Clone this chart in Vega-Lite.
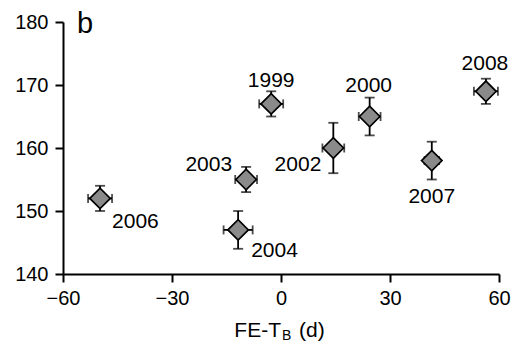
{
  "$schema": "https://vega.github.io/schema/vega-lite/v6.json",
  "width": 436,
  "height": 252,
  "autosize": {"type": "none"},
  "padding": {"left": 63, "top": 22, "right": 15, "bottom": 68},
  "background": "white",
  "config": {
    "view": {"stroke": null},
    "font": "Liberation Sans",
    "axis": {
      "grid": false,
      "labelFlush": false,
      "labelOverlap": false,
      "domainColor": "black",
      "domainWidth": 2,
      "tickColor": "black",
      "tickWidth": 2,
      "tickSize": 8,
      "labelFont": "Liberation Sans",
      "labelFontSize": 20,
      "labelColor": "black",
      "labelPadding": 6
    },
    "text": {"font": "Liberation Sans", "fontSize": 21, "color": "black", "fontWeight": "normal"}
  },
  "datasets": {
    "points": [
      {"year": "1999", "x": -2.7, "y": 167, "xlo": -6.0, "xhi": 0.6, "ylo": 165, "yhi": 169},
      {"year": "2000", "x": 24.4, "y": 165, "xlo": 21.4, "xhi": 27.4, "ylo": 162, "yhi": 168},
      {"year": "2002", "x": 14.4, "y": 160, "xlo": 11.4, "xhi": 17.4, "ylo": 156, "yhi": 164},
      {"year": "2003", "x": -9.6, "y": 155, "xlo": -12.6, "xhi": -6.6, "ylo": 153, "yhi": 157},
      {"year": "2004", "x": -11.8, "y": 147, "xlo": -15.8, "xhi": -7.8, "ylo": 144, "yhi": 150},
      {"year": "2006", "x": -49.8, "y": 152, "xlo": -53.1, "xhi": -46.5, "ylo": 150, "yhi": 154},
      {"year": "2007", "x": 41.5, "y": 158, "xlo": 39.5, "xhi": 43.5, "ylo": 155, "yhi": 161},
      {"year": "2008", "x": 56.4, "y": 169, "xlo": 53.1, "xhi": 59.7, "ylo": 167, "yhi": 171}
    ],
    "single": [{"note": "annotation"}]
  },
  "data": {"name": "points"},
  "layer": [
    {
      "mark": {"type": "rule", "color": "black", "strokeWidth": 1.8},
      "encoding": {
        "x": {"field": "xlo", "type": "quantitative",
              "scale": {"domain": [-60, 60], "nice": false, "zero": false, "padding": 0},
              "axis": {"title": null, "values": [-60, -30, 0, 30, 60]}},
        "x2": {"field": "xhi"},
        "y": {"field": "y", "type": "quantitative",
              "scale": {"domain": [140, 180], "nice": false, "zero": false, "padding": 0},
              "axis": {"title": null, "values": [140, 150, 160, 170, 180], "labelPadding": 7}}
      }
    },
    {
      "mark": {"type": "rule", "color": "black", "strokeWidth": 1.8},
      "encoding": {
        "x": {"field": "x", "type": "quantitative"},
        "y": {"field": "ylo", "type": "quantitative"},
        "y2": {"field": "yhi"}
      }
    },
    {
      "mark": {"type": "tick", "orient": "horizontal", "color": "black", "size": 10, "thickness": 1.8},
      "encoding": {
        "x": {"field": "x", "type": "quantitative"},
        "y": {"field": "ylo", "type": "quantitative"}
      }
    },
    {
      "mark": {"type": "tick", "orient": "horizontal", "color": "black", "size": 10, "thickness": 1.8},
      "encoding": {
        "x": {"field": "x", "type": "quantitative"},
        "y": {"field": "yhi", "type": "quantitative"}
      }
    },
    {
      "mark": {"type": "tick", "orient": "vertical", "color": "black", "size": 9, "thickness": 1.8},
      "encoding": {
        "x": {"field": "xlo", "type": "quantitative"},
        "y": {"field": "y", "type": "quantitative"}
      }
    },
    {
      "mark": {"type": "tick", "orient": "vertical", "color": "black", "size": 9, "thickness": 1.8},
      "encoding": {
        "x": {"field": "xhi", "type": "quantitative"},
        "y": {"field": "y", "type": "quantitative"}
      }
    },
    {
      "mark": {"type": "point", "shape": "diamond", "filled": true, "fill": "#8a8a8a", "stroke": "black", "strokeWidth": 1.7, "size": 420, "opacity": 1},
      "encoding": {
        "x": {"field": "x", "type": "quantitative"},
        "y": {"field": "y", "type": "quantitative"}
      }
    },
    {
      "transform": [{"filter": "datum.year == '1999'"}],
      "mark": {"type": "text", "align": "center", "baseline": "alphabetic", "dy": -17},
      "encoding": {"x": {"field": "x", "type": "quantitative"}, "y": {"field": "y", "type": "quantitative"}, "text": {"field": "year"}}
    },
    {
      "transform": [{"filter": "datum.year == '2000'"}],
      "mark": {"type": "text", "align": "center", "baseline": "alphabetic", "dx": -1, "dy": -25},
      "encoding": {"x": {"field": "x", "type": "quantitative"}, "y": {"field": "y", "type": "quantitative"}, "text": {"field": "year"}}
    },
    {
      "transform": [{"filter": "datum.year == '2008'"}],
      "mark": {"type": "text", "align": "center", "baseline": "alphabetic", "dx": -1, "dy": -21},
      "encoding": {"x": {"field": "x", "type": "quantitative"}, "y": {"field": "y", "type": "quantitative"}, "text": {"field": "year"}}
    },
    {
      "transform": [{"filter": "datum.year == '2003'"}],
      "mark": {"type": "text", "align": "right", "baseline": "alphabetic", "dx": -14, "dy": -9},
      "encoding": {"x": {"field": "x", "type": "quantitative"}, "y": {"field": "y", "type": "quantitative"}, "text": {"field": "year"}}
    },
    {
      "transform": [{"filter": "datum.year == '2002'"}],
      "mark": {"type": "text", "align": "right", "baseline": "alphabetic", "dx": -12, "dy": 23},
      "encoding": {"x": {"field": "x", "type": "quantitative"}, "y": {"field": "y", "type": "quantitative"}, "text": {"field": "year"}}
    },
    {
      "transform": [{"filter": "datum.year == '2006'"}],
      "mark": {"type": "text", "align": "left", "baseline": "alphabetic", "dx": 12, "dy": 30},
      "encoding": {"x": {"field": "x", "type": "quantitative"}, "y": {"field": "y", "type": "quantitative"}, "text": {"field": "year"}}
    },
    {
      "transform": [{"filter": "datum.year == '2004'"}],
      "mark": {"type": "text", "align": "left", "baseline": "alphabetic", "dx": 13, "dy": 27},
      "encoding": {"x": {"field": "x", "type": "quantitative"}, "y": {"field": "y", "type": "quantitative"}, "text": {"field": "year"}}
    },
    {
      "transform": [{"filter": "datum.year == '2007'"}],
      "mark": {"type": "text", "align": "center", "baseline": "alphabetic", "dy": 42},
      "encoding": {"x": {"field": "x", "type": "quantitative"}, "y": {"field": "y", "type": "quantitative"}, "text": {"field": "year"}}
    },
    {
      "data": {"name": "single"},
      "mark": {"type": "text", "align": "left", "baseline": "alphabetic", "fontSize": 29, "dx": 14, "dy": 11},
      "encoding": {"x": {"datum": -60}, "y": {"datum": 180}, "text": {"value": "b"}}
    },
    {
      "data": {"name": "single"},
      "mark": {"type": "text", "align": "right", "baseline": "alphabetic", "fontSize": 21},
      "encoding": {"x": {"datum": 0}, "y": {"datum": 130}, "text": {"value": "FE-T"}}
    },
    {
      "data": {"name": "single"},
      "mark": {"type": "text", "align": "left", "baseline": "alphabetic", "fontSize": 14, "dx": 1, "dy": 3},
      "encoding": {"x": {"datum": 0}, "y": {"datum": 130}, "text": {"value": "B"}}
    },
    {
      "data": {"name": "single"},
      "mark": {"type": "text", "align": "left", "baseline": "alphabetic", "fontSize": 21, "dx": 18},
      "encoding": {"x": {"datum": 0}, "y": {"datum": 130}, "text": {"value": "(d)"}}
    }
  ]
}
